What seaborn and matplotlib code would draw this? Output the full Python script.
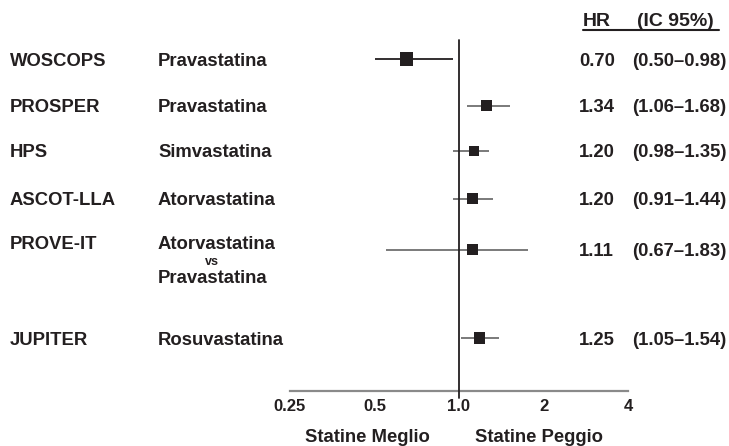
import matplotlib
matplotlib.use("Agg")
import matplotlib.pyplot as plt
import matplotlib.transforms as mtransforms
from matplotlib.lines import Line2D
from matplotlib.ticker import NullLocator
import seaborn as sns
import pandas as pd

# ---------------- data ----------------
studies = ["WOSCOPS", "PROSPER", "HPS", "ASCOT-LLA", "PROVE-IT", "JUPITER"]
drugs = ["Pravastatina", "Pravastatina", "Simvastatina", "Atorvastatina",
         "Atorvastatina", "Rosuvastatina"]
hr_text = ["0.70", "1.34", "1.20", "1.20", "1.11", "1.25"]
ci_text = ["(0.50–0.98)", "(1.06–1.68)", "(0.98–1.35)", "(0.91–1.44)",
           "(0.67–1.83)", "(1.05–1.54)"]
# positions of the marks as drawn in the picture
hr_drawn = [0.65, 1.25, 1.13, 1.12, 1.12, 1.18]
ci_low_drawn = [0.50, 1.07, 0.95, 0.95, 0.55, 1.02]
ci_high_drawn = [0.95, 1.52, 1.28, 1.32, 1.76, 1.39]
xticks = [0.25, 0.5, 1.0, 2, 4]
xtick_labels = ["0.25", "0.5", "1.0", "2", "4"]

# ---------------- layout ----------------
row_pos = [0, 1, 1.97, 3, 4.1, 6]
sq_px = [13, 11, 10, 11, 11, 11]
ci_colors = ["#231f20", "#707070", "#707070", "#707070", "#707070", "#707070"]

sns.set_theme(style="white")
plt.rcParams["font.family"] = ["Liberation Sans", "DejaVu Sans"]
plt.rcParams["font.weight"] = "bold"
TXT = "#231f20"

W, H = 729, 446
fig = plt.figure(figsize=(W / 100, H / 100), dpi=100)
x0, x1, y_top, y_bot = 290, 628, 30, 391
ax = fig.add_axes([x0 / W, 1 - y_bot / H, (x1 - x0) / W, (y_bot - y_top) / H])
ax.set_xscale("log")
ax.set_xlim(0.25, 4)
px_row = 46.5
ax.set_ylim((y_bot - 59) / px_row, -(59 - y_top) / px_row)

df = pd.DataFrame({"hr": hr_drawn, "row": row_pos, "sq": sq_px})

ax.hlines(row_pos, ci_low_drawn, ci_high_drawn, colors=ci_colors, lw=1.3, zorder=2)
sizes = {13: 88, 11: 63, 10: 52}
sns.scatterplot(data=df, x="hr", y="row", size="sq", sizes=sizes, marker="s",
                color=TXT, linewidth=0, legend=False, ax=ax, zorder=3)

ax.axvline(1.0, ymin=-0.02, ymax=(y_bot - 40) / (y_bot - y_top), color=TXT,
           lw=1.3, clip_on=False, zorder=4)

for s in ["left", "top", "right"]:
    ax.spines[s].set_visible(False)
ax.spines["bottom"].set_color("#8a8a8a")
ax.spines["bottom"].set_linewidth(1.6)
ax.set_xticks(xticks)
ax.xaxis.set_minor_locator(NullLocator())
ax.set_xticklabels(xtick_labels, fontsize=12, fontweight="bold", color=TXT)
ax.tick_params(axis="x", length=0, pad=6)
ax.get_xticklabels()[0].set_x(0.26)
ax.set_yticks([])
ax.set_xlabel("")
ax.set_ylabel("")

# axis captions
fig.text(367 / W, 1 - 438 / H, "Statine Meglio", ha="center", va="center",
         fontsize=13.3, fontweight="bold", color=TXT)
fig.text(539 / W, 1 - 438 / H, "Statine Peggio", ha="center", va="center",
         fontsize=13.3, fontweight="bold", color=TXT)

# left and right columns
trans = mtransforms.blended_transform_factory(fig.transFigure, ax.transData)
fs = 13.3
for i, r in enumerate(row_pos):
    off = -0.15 if studies[i] == "PROVE-IT" else 0.0
    ax.text(10 / W, r + off, studies[i], transform=trans, ha="left",
            va="center_baseline", fontsize=fs, fontweight="bold", color=TXT)
    ax.text(158 / W, r + off, drugs[i], transform=trans, ha="left",
            va="center_baseline", fontsize=fs, fontweight="bold", color=TXT)
    ax.text(579 / W, r, hr_text[i], transform=trans, ha="left",
            va="center_baseline", fontsize=fs, fontweight="bold", color=TXT)
    ax.text(632 / W, r, ci_text[i], transform=trans, ha="left",
            va="center_baseline", fontsize=fs, fontweight="bold", color=TXT)

# PROVE-IT comparison lines
r4 = row_pos[4]
ax.text(212 / W, r4 + 0.24, "vs", transform=trans, ha="center",
        va="center_baseline", fontsize=9, fontweight="bold", color=TXT)
ax.text(158 / W, r4 + 0.58, "Pravastatina", transform=trans, ha="left",
        va="center_baseline", fontsize=fs, fontweight="bold", color=TXT)

# header
fig.text(583 / W, 1 - 20 / H, "HR", ha="left", va="center_baseline",
         fontsize=14, fontweight="bold", color=TXT)
fig.text(637 / W, 1 - 20 / H, "(IC 95%)", ha="left", va="center_baseline",
         fontsize=14, fontweight="bold", color=TXT)
fig.add_artist(Line2D([583 / W, 719 / W], [1 - 30 / H, 1 - 30 / H],
                      transform=fig.transFigure, color=TXT, lw=1.5))

fig.savefig("out.png", dpi=100)
